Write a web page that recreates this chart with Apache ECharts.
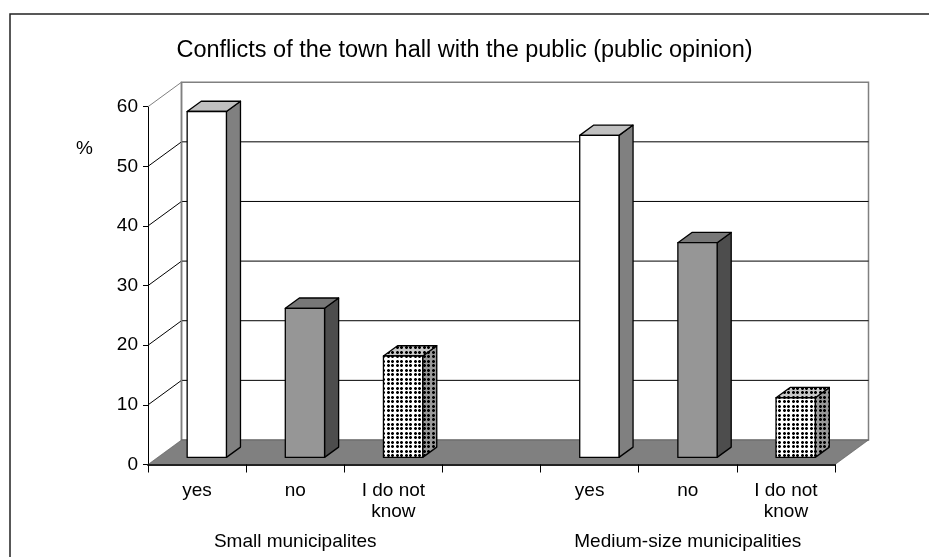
<!DOCTYPE html>
<html>
<head>
<meta charset="utf-8">
<script src="https://cdn.jsdelivr.net/npm/echarts@6/dist/echarts.min.js"></script>
<style>
  html, body { margin: 0; padding: 0; background: #fff; }
  #chart { width: 929px; height: 557px; }
</style>
</head>
<body>
<div id="chart"></div>
<script>
// Survey answers by municipality size (%)
const categories = ['yes', 'no', 'I do not\nknow', '', 'yes', 'no', 'I do not\nknow'];
const groupLabels = ['', 'Small municipalites', '', '', '', 'Medium-size municipalities', ''];
const answerKind = ['yes', 'no', 'dk', null, 'yes', 'no', 'dk'];
const values = [58, 25, 17, null, 54, 36, 10];
const yTicks = [0, 10, 20, 30, 40, 50, 60];

// 3D look: full depth of the box and the slice of it each bar occupies
const DX = 33.5, DY = -24.5;
const F0 = 0.29, F1 = 0.71;
const BAR_RATIO = 0.4;

// Dotted fill: roughly round dots on a ~4.5px grid
function dotPattern(bg) {
  const c = document.createElement('canvas');
  c.width = 9; c.height = 9;
  const g = c.getContext('2d');
  g.fillStyle = bg; g.fillRect(0, 0, 9, 9);
  const centers = [1, 5];
  centers.forEach(cx => centers.forEach(cy => {
    g.fillStyle = '#000';
    g.fillRect(cx, cy - 1, 1, 3);
    g.fillRect(cx - 1, cy, 3, 1);
    g.fillStyle = 'rgba(0,0,0,0.5)';
    g.fillRect(cx - 1, cy - 1, 1, 1);
    g.fillRect(cx + 1, cy - 1, 1, 1);
    g.fillRect(cx - 1, cy + 1, 1, 1);
    g.fillRect(cx + 1, cy + 1, 1, 1);
  }));
  return { image: c, repeat: 'repeat' };
}

const faceStyles = {
  yes: { front: '#ffffff', side: '#808080', top: '#c0c0c0' },
  no:  { front: '#969696', side: '#4d4d4d', top: '#777777' },
  dk:  { front: dotPattern('#ffffff'), side: dotPattern('#9a9a9a'), top: dotPattern('#c8c8c8') }
};

const barData = [];
values.forEach((v, i) => { if (v != null) barData.push([i, v]); });

function renderWalls(params, api) {
  const n = categories.length;
  const bw = api.size([1, 0])[0];
  const left = api.coord([0, 0])[0] - bw / 2;
  const right = api.coord([n - 1, 0])[0] + bw / 2;
  const y0 = api.coord([0, yTicks[0]])[1];
  const yTop = api.coord([0, yTicks[yTicks.length - 1]])[1];
  const children = [];
  // back wall
  children.push({ type: 'rect', shape: { x: left + DX, y: yTop + DY, width: right - left, height: y0 - yTop },
    style: { fill: '#fff', stroke: '#808080', lineWidth: 1.5 } });
  // horizontal gridlines on back wall + diagonals on side wall
  yTicks.forEach((t, k) => {
    if (t === yTicks[0]) return;
    const y = api.coord([0, t])[1];
    const last = k === yTicks.length - 1;
    const col = last ? '#808080' : '#000';
    if (!last) {
      children.push({ type: 'line', shape: { x1: left + DX, y1: y + DY, x2: right + DX, y2: y + DY },
        style: { stroke: col, lineWidth: 1 } });
    }
    children.push({ type: 'line', shape: { x1: left, y1: y, x2: left + DX, y2: y + DY },
      style: { stroke: col, lineWidth: 1 } });
  });
  // back edge of the side wall
  children.push({ type: 'line', shape: { x1: left + DX, y1: yTop + DY, x2: left + DX, y2: y0 + DY },
    style: { stroke: '#808080', lineWidth: 1.5 } });
  // floor
  children.push({ type: 'polygon', shape: { points: [[left, y0], [left + DX, y0 + DY], [right + DX, y0 + DY], [right, y0]] },
    style: { fill: '#808080', stroke: '#555', lineWidth: 0.6 } });
  return { type: 'group', children };
}

function renderBar(params, api) {
  const i = api.value(0), v = api.value(1);
  const base = api.coord([i, 0]);
  const top = api.coord([i, v]);
  const w = api.size([1, 0])[0] * BAR_RATIO;
  const x0 = base[0] - w / 2 + DX * F0;
  const x1 = x0 + w;
  const yb = base[1] + DY * F0;
  const yt = top[1] + DY * F0;
  const ox = DX * (F1 - F0), oy = DY * (F1 - F0);
  const f = faceStyles[answerKind[i]];
  const line = { stroke: '#000', lineWidth: 1.3, lineJoin: 'round' };
  return {
    type: 'group',
    children: [
      { type: 'polygon', shape: { points: [[x1, yb], [x1 + ox, yb + oy], [x1 + ox, yt + oy], [x1, yt]] },
        style: Object.assign({ fill: f.side }, line) },
      { type: 'polygon', shape: { points: [[x0, yt], [x1, yt], [x1 + ox, yt + oy], [x0 + ox, yt + oy]] },
        style: Object.assign({ fill: f.top }, line) },
      { type: 'rect', shape: { x: x0, y: yt, width: w, height: yb - yt },
        style: Object.assign({ fill: f.front }, line) }
    ]
  };
}

const FONT = '"Liberation Sans", Arial, sans-serif';
const LABEL_SIZE = 19;
const chart = echarts.init(document.getElementById('chart'), null, { renderer: 'canvas' });
chart.setOption({
  animation: false,
  backgroundColor: '#fff',
  title: {
    text: 'Conflicts of the town hall with the public (public opinion)',
    left: 'center', top: 34,
    textStyle: { fontFamily: FONT, fontSize: 23.5, fontWeight: 'normal', color: '#000' }
  },
  graphic: [
    { type: 'rect', shape: { x: 10, y: 14, width: 1000, height: 1000 },
      style: { fill: 'none', stroke: '#222', lineWidth: 1.5 }, z: 0 },
    { type: 'text', left: 76, top: 139,
      style: { text: '%', fontFamily: FONT, fontSize: LABEL_SIZE, fill: '#000' } }
  ],
  grid: { left: 148, right: 94, top: 106.7, bottom: 92.5 },
  xAxis: [
    {
      type: 'category', data: categories, z: 5,
      axisLine: { lineStyle: { color: '#222', width: 2 } },
      axisTick: { show: true, length: 8, lineStyle: { color: '#000' } },
      axisLabel: { interval: 0, margin: 16, fontFamily: FONT, fontSize: LABEL_SIZE, lineHeight: 21, color: '#000' }
    },
    {
      type: 'category', data: groupLabels, position: 'bottom',
      axisLine: { show: false }, axisTick: { show: false },
      axisLabel: { interval: 0, margin: 68, fontFamily: FONT, fontSize: LABEL_SIZE, color: '#000' }
    }
  ],
  yAxis: {
    type: 'value', min: 0, max: 60, interval: 10,
    axisLine: { show: true, lineStyle: { color: '#000', width: 1 } },
    axisTick: { show: true, length: 5, lineStyle: { color: '#000' } },
    splitLine: { show: false },
    axisLabel: { margin: 10, fontFamily: FONT, fontSize: LABEL_SIZE, color: '#000' }
  },
  series: [
    { type: 'custom', name: 'walls', z: 1, silent: true, data: [[0, 0]], renderItem: renderWalls, clip: false },
    { type: 'custom', name: 'answers', z: 3, data: barData, renderItem: renderBar, clip: false }
  ]
});
</script>
</body>
</html>
